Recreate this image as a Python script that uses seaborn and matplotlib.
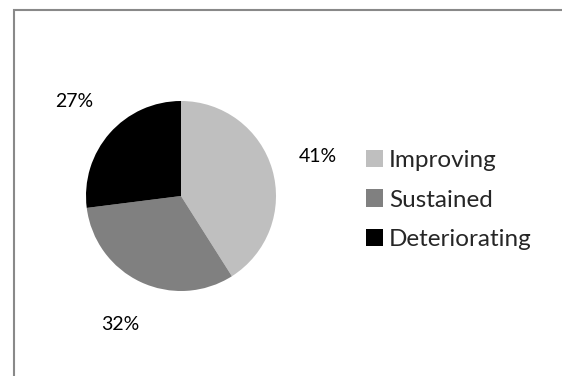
import matplotlib
matplotlib.use("Agg")
import matplotlib.pyplot as plt
import seaborn as sns
from matplotlib.patches import Rectangle

sns.set_theme(style="white")
plt.rcParams['font.family'] = ['Lato', 'DejaVu Sans']

categories = ["Improving", "Sustained", "Deteriorating"]
values = [41, 32, 27]
colors = ["#BFBFBF", "#808080", "#000000"]

fig = plt.figure(figsize=(5.62, 3.76), dpi=100)

# pie axes: center (181,196), radius 95
r = 95
cx, cy = 181, 196
pax = fig.add_axes([(cx - r) / 562, 1 - (cy + r) / 376, 2 * r / 562, 2 * r / 376])
wedges, texts, autotexts = pax.pie(
    values, colors=colors, startangle=90, counterclock=False,
    autopct=lambda p: f"{p:.0f}%", pctdistance=1.5,
    wedgeprops=dict(linewidth=0),
    textprops=dict(fontsize=14, color="black"))
pax.set_xlim(-1, 1)
pax.set_ylim(-1, 1)
pax.set_aspect("equal")

leg = fig.legend(wedges, categories, loc="center left",
                 bbox_to_anchor=(366 / 562, 1 - 200 / 376), frameon=False,
                 fontsize=17.5, handlelength=0.7, handleheight=0.7,
                 handletextpad=0.25, labelspacing=0.78, borderaxespad=0,
                 borderpad=0)

fig.add_artist(Rectangle((13.5 / 562, -0.1), 1.2, 1.1 - 9.5 / 376,
                         transform=fig.transFigure, fill=False,
                         edgecolor="#898989", linewidth=1.5))

fig.savefig("out.png", dpi=100)
